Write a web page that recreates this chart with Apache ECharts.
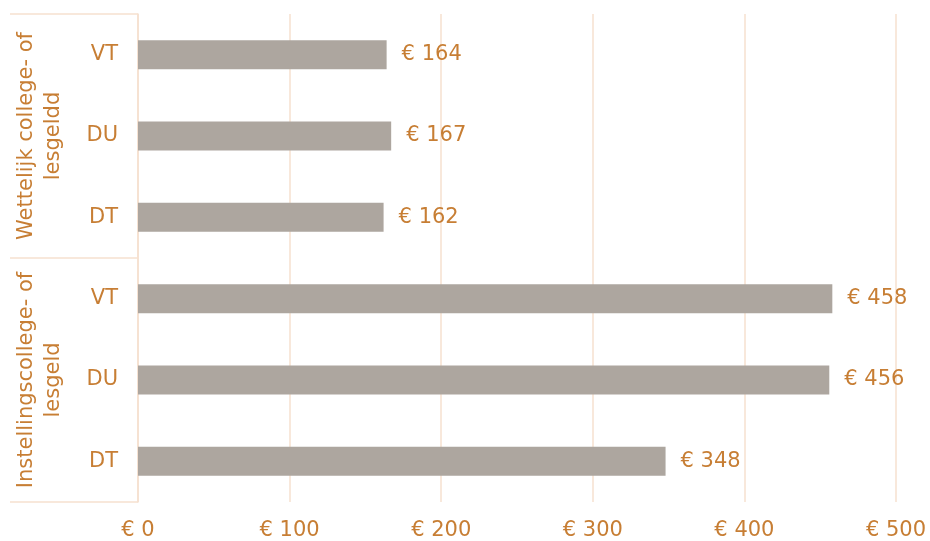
<!DOCTYPE html>
<html>
<head>
<meta charset="utf-8">
<script src="https://cdn.jsdelivr.net/npm/echarts@6/dist/echarts.min.js"></script>
<style>
  html, body { margin: 0; padding: 0; background: #fff; }
  #chart { width: 930px; height: 541px; }
</style>
</head>
<body>
<div id="chart"></div>
<script>
// Data
const categories = ['VT', 'DU', 'DT', 'VT', 'DU', 'DT'];
const groups = ['Wettelijk college- of\nlesgeldd', 'Instellingscollege- of\nlesgeld'];
const values = [164, 167, 162, 458, 456, 348];
const xTicks = { min: 0, max: 500, interval: 100 };

const textColor = '#C77E34';
const lineColor = '#F6E1CF';
const fontFamily = 'DejaVu Sans';

const chart = echarts.init(document.getElementById('chart'));

chart.setOption({
    animation: false,
    grid: { left: 138, right: 34, top: 14, bottom: 34, containLabel: false },
    xAxis: {
        type: 'value',
        min: xTicks.min,
        max: xTicks.max,
        interval: xTicks.interval,
        axisLine: { show: false },
        axisTick: { show: false },
        splitLine: { lineStyle: { color: lineColor, width: 1.5 } },
        axisLabel: {
            color: textColor,
            fontFamily: fontFamily,
            fontSize: 21,
            margin: 18,
            formatter: '€ {value}'
        }
    },
    yAxis: [
        {
            type: 'category',
            data: categories,
            inverse: true,
            axisLine: { show: true, lineStyle: { color: lineColor, width: 1.5 } },
            axisTick: { show: false },
            axisLabel: {
                color: textColor,
                fontFamily: fontFamily,
                fontSize: 21,
                margin: 20
            }
        },
        {
            type: 'category',
            data: groups,
            inverse: true,
            position: 'left',
            offset: 0,
            axisLine: { show: false },
            axisTick: {
                show: true,
                length: 128,
                lineStyle: { color: lineColor, width: 1.5 }
            },
            axisLabel: {
                color: textColor,
                fontFamily: fontFamily,
                fontSize: 21,
                lineHeight: 27,
                rotate: 90,
                margin: 71,
                interval: 0
            }
        }
    ],
    series: [{
        type: 'bar',
        yAxisIndex: 0,
        data: values,
        barWidth: 29,
        itemStyle: { color: '#ADA69F' },
        label: {
            show: true,
            position: 'right',
            distance: 15,
            color: textColor,
            fontFamily: fontFamily,
            fontSize: 21,
            formatter: p => '€ ' + p.value
        }
    }]
});
</script>
</body>
</html>
